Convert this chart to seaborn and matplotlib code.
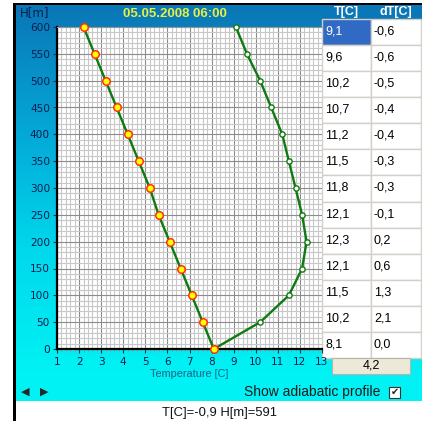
import numpy as np
import pandas as pd
import matplotlib
matplotlib.use("Agg")
import matplotlib.pyplot as plt
import seaborn as sns
from matplotlib.patches import Rectangle
from matplotlib.ticker import MultipleLocator
from matplotlib.colors import LinearSegmentedColormap

# ---------------- data ----------------
heights = [600, 550, 500, 450, 400, 350, 300, 250, 200, 150, 100, 50, 0]
temp_measured = [9.1, 9.6, 10.2, 10.7, 11.2, 11.5, 11.8, 12.1, 12.3, 12.1, 11.5, 10.2, 8.1]
temp_adiabatic = [2.2, 2.7, 3.2, 3.7, 4.2, 4.7, 5.2, 5.6, 6.1, 6.6, 7.1, 7.6, 8.1]
delta_t = [-0.6, -0.6, -0.5, -0.4, -0.4, -0.3, -0.3, -0.1, 0.2, 0.6, 1.3, 2.1, 0.0]
button_value = 4.2
title = "05.05.2008 06:00"
x_ticks = list(range(1, 14))
y_ticks = list(range(0, 601, 50))
status_text = "T[C]=-0,9 H[m]=591"

def fmt(v):
    return f"{v:.1f}".replace(".", ",")

W, H = 422, 421
sns.set_style("white")
plt.rcParams["font.family"] = ["Liberation Sans", "DejaVu Sans"]

fig = plt.figure(figsize=(W / 100, H / 100), dpi=100)
fig.patch.set_facecolor("white")

# background panel in pixel coordinates
bg = fig.add_axes([0, 0, 1, 1], zorder=0)
bg.set_xlim(0, W)
bg.set_ylim(H, 0)
bg.axis("off")

cmap = LinearSegmentedColormap.from_list("panel", ["#0a76b6", "#04a6d6", "#00d8ec", "#00f2f4"])
grad = np.linspace(0, 1, 256).reshape(-1, 1)
bg.imshow(grad, cmap=cmap, extent=[16, W, 372, 5], aspect="auto", zorder=0)
bg.add_patch(Rectangle((16, 371), W - 16, 30, color="#00f2f4", zorder=0.5, lw=0))
bg.add_patch(Rectangle((13, 3), 3, H - 3, color="black", zorder=3, lw=0))
bg.add_patch(Rectangle((13, 3), W - 13, 2.2, color="black", zorder=3, lw=0))

# titles / labels
bg.text(20, 13, "H[m]", fontsize=8.5, color="#0a1e50", va="center", ha="left",
        family="DejaVu Sans", zorder=4)
bg.text(175, 14, title, fontsize=9.5, color="#e6f040", fontweight="bold",
        va="center", ha="center", zorder=4)

# table
col_x = [322, 371, 420.5]
row_top = 19
row_h = (358 - 19) / len(heights)
bg.add_patch(Rectangle((322, 5), 98.5, 14, color="#0a78b8", lw=0, zorder=2))
bg.text(346.5, 12, "T[C]", color="white", fontsize=9, fontweight="bold",
        ha="center", va="center", zorder=4)
bg.text(396, 12, "dT[C]", color="white", fontsize=9, fontweight="bold",
        ha="center", va="center", zorder=4)
for i, (t, d) in enumerate(zip(temp_measured, delta_t)):
    y0 = row_top + i * row_h
    for j, val in enumerate([t, d]):
        fc = "#316ac5" if (i == 0 and j == 0) else "white"
        tc = "white" if (i == 0 and j == 0) else "black"
        bg.add_patch(Rectangle((col_x[j], y0), col_x[j + 1] - col_x[j], row_h,
                               facecolor=fc, edgecolor="#d4d0c8", lw=1.0, zorder=2))
        bg.text(col_x[j] + 3, y0 + row_h / 2 - 0.5, fmt(val), color=tc, fontsize=9,
                ha="left", va="center", zorder=4)

# button
bg.add_patch(Rectangle((332, 358), 78, 16, facecolor="#ece9d8", edgecolor="#b8b4a8",
                       lw=0.8, zorder=2))
bg.text(371, 366, fmt(button_value), fontsize=9, color="black", ha="center",
        va="center", zorder=4)

# arrows, checkbox, status
bg.text(25, 392, "\u25c0", fontsize=8, family="DejaVu Sans", ha="center", va="center", zorder=4)
bg.text(44, 392, "\u25b6", fontsize=8, family="DejaVu Sans", ha="center", va="center", zorder=4)
bg.text(380, 392, "Show adiabatic profile", fontsize=10, color="#1a1a1a",
        ha="right", va="center", zorder=4)
bg.add_patch(Rectangle((389, 386.5), 11, 11, facecolor="white", edgecolor="#333333",
                       lw=0.8, zorder=4))
bg.text(394.5, 392, "\u2714", fontsize=7, family="DejaVu Sans", ha="center",
        va="center", zorder=5)
bg.add_patch(Rectangle((16, 401), W - 16, 20, color="white", lw=0, zorder=1))
bg.text(219.5, 413, status_text, fontsize=9.4, color="#111111", ha="center",
        va="center", zorder=4)

# ---------------- main plot ----------------
ax = fig.add_axes([57 / W, (H - 349) / H, 265 / W, 322 / H], zorder=1)
ax.set_facecolor("white")

df_a = pd.DataFrame({"T": temp_adiabatic, "H": heights})
df_m = pd.DataFrame({"T": temp_measured, "H": heights})

sns.lineplot(data=df_m, x="T", y="H", sort=False, estimator=None, ax=ax,
             color="#0f7a0f", lw=1.7, marker="o", markersize=3.8,
             markerfacecolor="white", markeredgecolor="#0f7a0f", markeredgewidth=1.0,
             clip_on=False, zorder=5)
sns.lineplot(data=df_a, x="T", y="H", sort=False, estimator=None, ax=ax,
             color="#0f7a0f", lw=1.7, marker="o", markersize=5.4,
             markerfacecolor="#ffff00", markeredgecolor="#ff3010", markeredgewidth=1.1,
             clip_on=False, zorder=6)

ax.set_xlim(1, 13)
ax.set_ylim(0, 600)
ax.set_xticks(x_ticks)
ax.set_yticks(y_ticks)
ax.xaxis.set_minor_locator(MultipleLocator(0.2))
ax.yaxis.set_minor_locator(MultipleLocator(10))
ax.grid(which="minor", color="#c8c8c8", lw=0.8, zorder=0)
ax.grid(which="major", color="#8c8c8c", lw=0.8, zorder=0)
ax.set_axisbelow(True)
ax.tick_params(axis="both", which="major", length=3, width=0.8, color="#333333",
               labelsize=7.6, labelcolor="#0a1e50", pad=2, left=True, bottom=True)
ax.tick_params(axis="x", which="minor", length=2, width=0.6, color="#999999", bottom=True)
ax.tick_params(axis="x", which="major", pad=3)
for lab in ax.get_xticklabels() + ax.get_yticklabels():
    lab.set_family("DejaVu Sans")
ax.set_xlabel("Temperature [C]", fontsize=7.8, color="#1a6088", labelpad=1)
ax.set_ylabel("")
for s in ["left", "bottom"]:
    ax.spines[s].set_color("black")
    ax.spines[s].set_linewidth(1.6)
ax.spines["right"].set_visible(False)
ax.spines["top"].set_color("#999999")
ax.spines["top"].set_linestyle((0, (2, 2)))
ax.spines["top"].set_linewidth(0.8)

fig.savefig("out.png", dpi=100)
